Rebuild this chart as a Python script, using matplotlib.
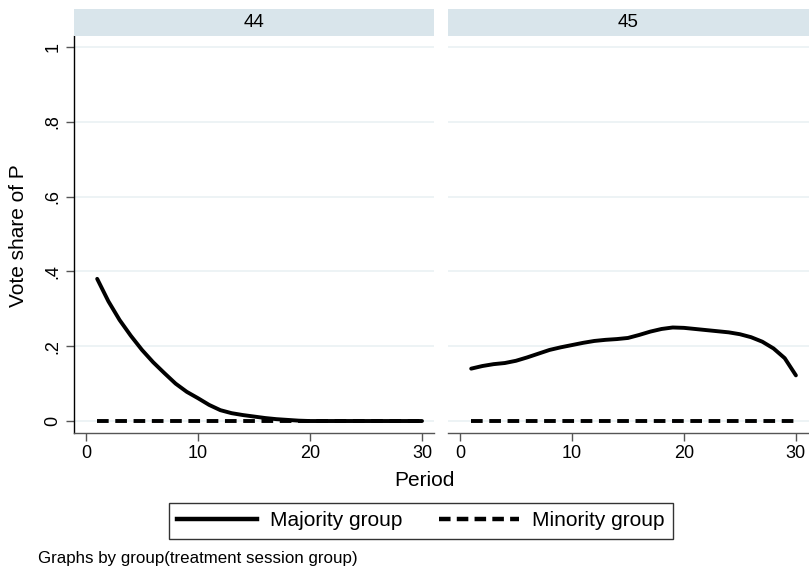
import matplotlib
matplotlib.use("Agg")
from matplotlib import pyplot as plt
from matplotlib.lines import Line2D

plt.rcParams['font.family'] = ['Liberation Sans', 'DejaVu Sans']

periods = list(range(1, 31))
panel_titles = ["44", "45"]
majority_44 = [0.38, 0.32, 0.27, 0.228, 0.19, 0.157, 0.128, 0.10, 0.078, 0.061,
               0.043, 0.029, 0.021, 0.016, 0.012, 0.008, 0.005, 0.003, 0.001, 0.0,
               0.0, 0.0, 0.0, 0.0, 0.0, 0.0, 0.0, 0.0, 0.0, 0.0]
majority_45 = [0.14, 0.147, 0.152, 0.155, 0.161, 0.170, 0.180, 0.19, 0.197, 0.203,
               0.209, 0.214, 0.217, 0.219, 0.222, 0.23, 0.239, 0.246, 0.25, 0.249,
               0.246, 0.243, 0.240, 0.237, 0.232, 0.224, 0.212, 0.194, 0.168, 0.122]
minority_44 = [0.0] * 30
minority_45 = [0.0] * 30
yticks = [0, 0.2, 0.4, 0.6, 0.8, 1.0]
ytick_labels = ["0", ".2", ".4", ".6", ".8", "1"]
xticks = [0, 10, 20, 30]

W, H = 809, 571
fig = plt.figure(figsize=(W / 100, H / 100), dpi=100)

grid_col = '#e8f0f2'
strip_col = '#d9e5eb'
axis_col = '#555555'
lw = 2.8
dash = (0, (3.0, 1.7))


def px_rect(x0, y0, x1, y1):
    # pixel box (top-left origin) -> figure fraction rect
    return [x0 / W, 1 - y1 / H, (x1 - x0) / W, (y1 - y0) / H]


panels = [(74, 434, majority_44, minority_44), (448, 809, majority_45, minority_45)]
for i, (x0, x1, maj, mino) in enumerate(panels):
    ax = fig.add_axes(px_rect(x0, 36, x1, 433))
    ax.set_xlim(-1.07, 31.07 + (0.1 if i == 1 else 0))
    ax.set_ylim(-0.032, 1.029)
    for y in yticks:
        ax.axhline(y, color=grid_col, lw=1.1, zorder=0)
    ax.plot(periods, mino, color='black', lw=lw, linestyle=dash, dash_capstyle='butt')
    ax.plot(periods, maj, color='black', lw=lw, solid_capstyle='round',
            solid_joinstyle='round')
    for s in ['top', 'right']:
        ax.spines[s].set_visible(False)
    ax.spines['bottom'].set_color(axis_col)
    ax.spines['bottom'].set_linewidth(1.0)
    ax.set_xticks(xticks)
    ax.tick_params(axis='x', length=6, width=1.0, color=axis_col, labelsize=13, pad=3)
    if i == 0:
        ax.spines['left'].set_color('black')
        ax.spines['left'].set_linewidth(1.0)
        ax.set_yticks(yticks)
        ax.set_yticklabels(ytick_labels, rotation=90, va='center')
        ax.tick_params(axis='y', length=6, width=1.0, color=axis_col, labelsize=13, pad=3)
    else:
        ax.spines['left'].set_visible(False)
        ax.set_yticks([])

    strip = fig.add_axes(px_rect(x0, 9, x1, 36))
    strip.set_facecolor(strip_col)
    strip.set_xticks([])
    strip.set_yticks([])
    for s in strip.spines.values():
        s.set_visible(False)
    strip.text(0.5, 0.5, panel_titles[i], ha='center', va='center', fontsize=13.5,
               transform=strip.transAxes)

fig.text(19 / W, 1 - 236 / H, "Vote share of P", rotation=90, ha='center', va='center',
         fontsize=15)
fig.text(424 / W, 1 - 481 / H, "Period", ha='center', va='center', fontsize=15)
fig.text(38 / W, 1 - 558 / H, "Graphs by group(treatment session group)", ha='left',
         va='center', fontsize=12.2)

handles = [Line2D([0], [0], color='black', lw=3.2),
           Line2D([0], [0], color='black', lw=3.2, linestyle=(0, (2.6, 1.4)),
                  dash_capstyle='butt')]
leg = fig.legend(handles, ["Majority group", "Minority group"], loc='center',
                 bbox_to_anchor=(421 / W, 1 - 521 / H), ncol=2, fontsize=15,
                 frameon=True, fancybox=False, handlelength=3.84, handletextpad=0.62,
                 columnspacing=1.75, borderpad=0.4, borderaxespad=0)
leg.get_frame().set_edgecolor('black')
leg.get_frame().set_linewidth(1.0)

fig.savefig("out.png", dpi=100)
